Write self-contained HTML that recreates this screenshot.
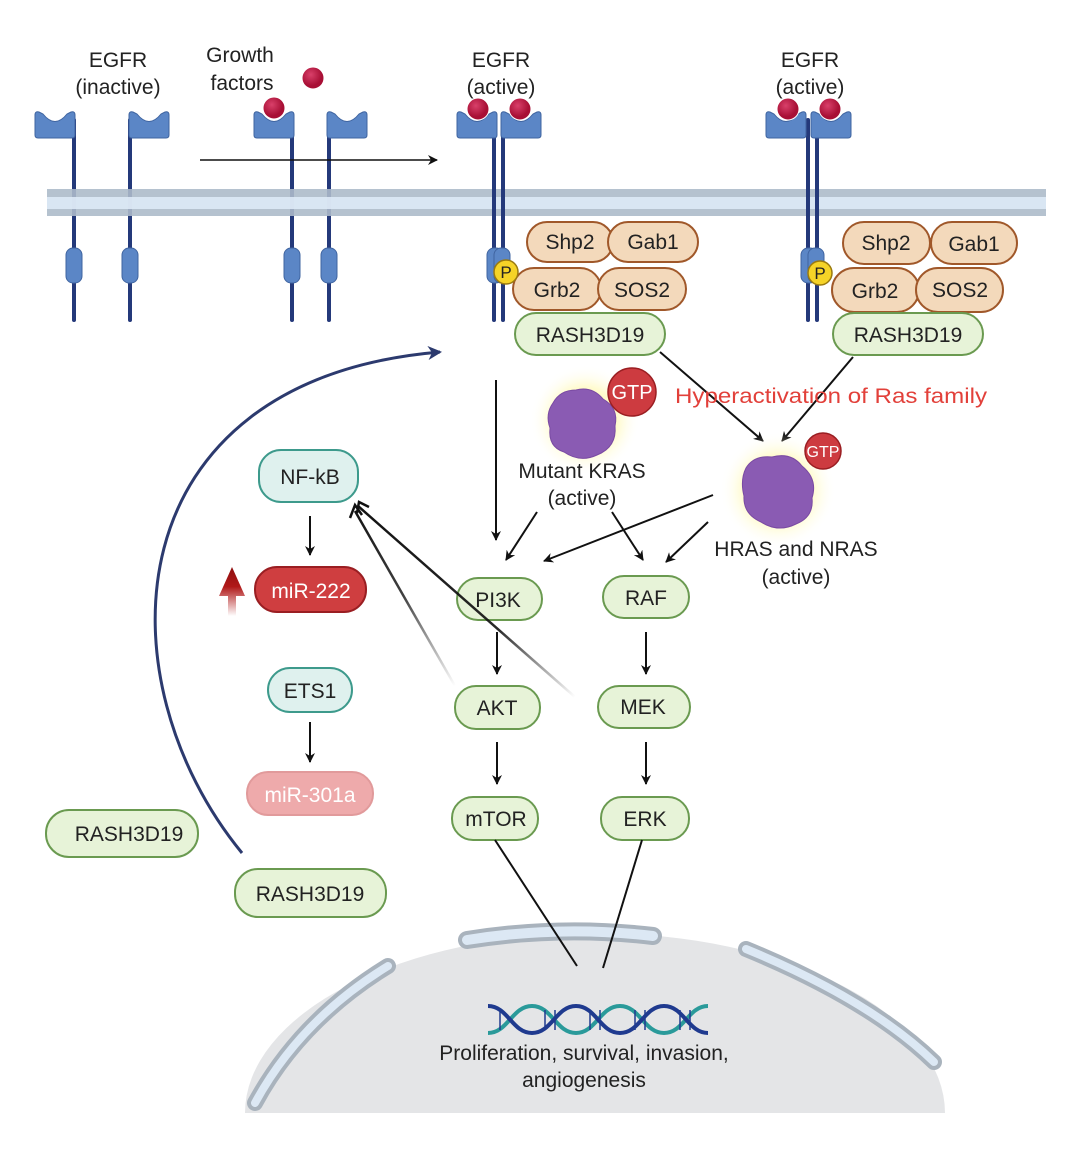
<!DOCTYPE html>
<html><head><meta charset="utf-8"><style>
html,body{margin:0;padding:0;background:#fff}
svg{display:block}
text{font-family:"Liberation Sans",Arial,sans-serif;fill:#222}
</style></head><body>
<svg width="1071" height="1155" viewBox="0 0 1071 1155" xmlns="http://www.w3.org/2000/svg">
<defs>
<marker id="ah" markerWidth="10" markerHeight="10" refX="9" refY="5" orient="auto" markerUnits="userSpaceOnUse"><path d="M0,0 L10,5 L0,10 L3,5 Z" fill="#111"/></marker>
<marker id="ahn" markerWidth="14" markerHeight="14" refX="12" refY="7" orient="auto" markerUnits="userSpaceOnUse"><path d="M0,0 L14,7 L0,14 L4,7 Z" fill="#2c3a6e"/></marker>
<radialGradient id="glow"><stop offset="0" stop-color="#fff36a" stop-opacity="0.9"/><stop offset="0.6" stop-color="#fff7a0" stop-opacity="0.5"/><stop offset="1" stop-color="#fff" stop-opacity="0"/></radialGradient>
<radialGradient id="ball" cx="0.4" cy="0.35"><stop offset="0" stop-color="#d9406a"/><stop offset="1" stop-color="#a80f35"/></radialGradient>
<linearGradient id="fade1" x1="455" y1="686" x2="352" y2="505" gradientUnits="userSpaceOnUse"><stop offset="0" stop-color="#111" stop-opacity="0"/><stop offset="0.5" stop-color="#111" stop-opacity="0.8"/><stop offset="1" stop-color="#111"/></linearGradient>
<linearGradient id="fade2" x1="575" y1="697" x2="355" y2="503" gradientUnits="userSpaceOnUse"><stop offset="0" stop-color="#111" stop-opacity="0"/><stop offset="0.35" stop-color="#111" stop-opacity="0.9"/><stop offset="1" stop-color="#111"/></linearGradient>
<linearGradient id="redup" x1="0" y1="1" x2="0" y2="0"><stop offset="0" stop-color="#b01818" stop-opacity="0"/><stop offset="0.6" stop-color="#b01818"/><stop offset="1" stop-color="#8e0f0f"/></linearGradient>
<g id="cupL"><path d="M0,2 Q0,-2 4,-1 L8,1 Q20,16 32,1 L36,-1 Q40,-2 40,2 L40,22 Q40,25 37,25 L3,25 Q0,25 0,22 Z" fill="#5b86c6" stroke="#3f64a0" stroke-width="1"/></g>
</defs>

<!-- membrane -->
<rect x="47" y="189" width="999" height="27" fill="#b5c2cf"/>
<rect x="47" y="197" width="999" height="12" fill="#dde9f6"/>

<g stroke="#24397a" stroke-width="4" stroke-linecap="round">
<line x1="74" y1="120" x2="74" y2="320"/><line x1="130" y1="120" x2="130" y2="320"/>
<line x1="292" y1="120" x2="292" y2="320"/><line x1="329" y1="120" x2="329" y2="320"/>
<line x1="494" y1="120" x2="494" y2="320"/><line x1="503" y1="120" x2="503" y2="320"/>
<line x1="808" y1="120" x2="808" y2="320"/><line x1="817" y1="120" x2="817" y2="320"/>
</g>
<rect x="47" y="189" width="999" height="27" fill="#b5c2cf" opacity="0.85"/>
<rect x="47" y="197" width="999" height="12" fill="#dde9f6" opacity="0.9"/>
<g stroke="#24397a" stroke-width="4"><line x1="494" y1="189" x2="494" y2="216"/><line x1="503" y1="189" x2="503" y2="216"/><line x1="808" y1="189" x2="808" y2="216"/><line x1="817" y1="189" x2="817" y2="216"/></g>

<use href="#cupL" x="35" y="113"/><use href="#cupL" x="129" y="113"/>
<use href="#cupL" x="254" y="113"/><use href="#cupL" x="327" y="113"/>
<use href="#cupL" x="457" y="113"/><use href="#cupL" x="501" y="113"/>
<use href="#cupL" x="766" y="113"/><use href="#cupL" x="811" y="113"/>
<g fill="#5b86c6" stroke="#3f64a0">
<rect x="66" y="248" width="16" height="35" rx="7"/><rect x="122" y="248" width="16" height="35" rx="7"/>
<rect x="284" y="248" width="16" height="35" rx="7"/><rect x="321" y="248" width="16" height="35" rx="7"/>
<rect x="487" y="248" width="16" height="35" rx="7"/><rect x="494" y="248" width="16" height="35" rx="7"/>
<rect x="801" y="248" width="16" height="35" rx="7"/><rect x="808" y="248" width="16" height="35" rx="7"/>
</g>
<g fill="url(#ball)" stroke="#fff" stroke-width="1"><circle cx="274" cy="108" r="11"/><circle cx="313" cy="78" r="11"/><circle cx="478" cy="109" r="11"/><circle cx="520" cy="109" r="11"/><circle cx="788" cy="109" r="11"/><circle cx="830" cy="109" r="11"/></g>

<g font-size="21" text-anchor="middle">
<text x="118" y="67">EGFR</text><text x="118" y="94">(inactive)</text>
<text x="240" y="62">Growth</text><text x="242" y="90">factors</text>
<text x="501" y="67">EGFR</text><text x="501" y="94">(active)</text>
<text x="810" y="67">EGFR</text><text x="810" y="94">(active)</text>
</g>
<line x1="200" y1="160" x2="437" y2="160" stroke="#111" stroke-width="1.5" marker-end="url(#ah)"/>

<g fill="#f3d9bb" stroke="#a0582a" stroke-width="2">
<rect x="527" y="222" width="86" height="40" rx="20"/><rect x="608" y="222" width="90" height="40" rx="20"/>
<rect x="513" y="268" width="88" height="42" rx="21"/><rect x="598" y="268" width="88" height="42" rx="21"/>
<rect x="843" y="222" width="87" height="42" rx="21"/><rect x="931" y="222" width="86" height="42" rx="21"/>
<rect x="832" y="268" width="87" height="44" rx="22"/><rect x="916" y="268" width="87" height="44" rx="22"/>
</g>
<g font-size="21" text-anchor="middle">
<text x="570" y="249">Shp2</text><text x="653" y="249">Gab1</text>
<text x="557" y="297">Grb2</text><text x="642" y="297">SOS2</text>
<text x="886" y="250">Shp2</text><text x="974" y="251">Gab1</text>
<text x="875" y="298">Grb2</text><text x="960" y="297">SOS2</text>
</g>
<g fill="#f5d327" stroke="#9a7a10" stroke-width="1.5"><circle cx="506" cy="272" r="12"/><circle cx="820" cy="273" r="12"/></g>
<g font-size="17" text-anchor="middle"><text x="506" y="278">P</text><text x="820" y="279">P</text></g>

<g fill="#e7f3d8" stroke="#6a9a50" stroke-width="2">
<rect x="515" y="313" width="150" height="42" rx="21"/><rect x="833" y="313" width="150" height="42" rx="21"/>
<rect x="457" y="578" width="85" height="42" rx="21"/><rect x="603" y="576" width="86" height="42" rx="21"/>
<rect x="455" y="686" width="85" height="43" rx="21"/><rect x="598" y="686" width="92" height="42" rx="21"/>
<rect x="452" y="797" width="86" height="43" rx="21"/><rect x="601" y="797" width="88" height="43" rx="21"/>
<rect x="46" y="810" width="152" height="47" rx="23"/><rect x="235" y="869" width="151" height="48" rx="23"/>
</g>
<g font-size="21" text-anchor="middle">
<text x="590" y="342">RASH3D19</text><text x="908" y="342">RASH3D19</text>
<text x="498" y="607">PI3K</text><text x="646" y="605">RAF</text>
<text x="497" y="715">AKT</text><text x="643" y="714">MEK</text>
<text x="496" y="826">mTOR</text><text x="645" y="826">ERK</text>
<text x="129" y="841">RASH3D19</text><text x="310" y="901">RASH3D19</text>
</g>

<g stroke-width="2">
<rect x="259" y="450" width="99" height="52" rx="22" fill="#dff1ee" stroke="#3d9a8c"/>
<rect x="268" y="668" width="84" height="44" rx="22" fill="#dff1ee" stroke="#3d9a8c"/>
<rect x="255" y="567" width="111" height="45" rx="22" fill="#cf3e40" stroke="#9a1e22"/>
<rect x="247" y="772" width="126" height="43" rx="21" fill="#eeaaab" stroke="#e19a9b"/>
</g>
<g font-size="21" text-anchor="middle">
<text x="310" y="484">NF-kB</text><text x="310" y="698">ETS1</text>
<text x="311" y="598" style="fill:#fff">miR-222</text><text x="310" y="802" style="fill:#fff">miR-301a</text>
</g>
<path d="M228,616 L228,596 L219,596 L232,567 L245,596 L236,596 L236,616 Z" fill="url(#redup)"/>

<g stroke="#111" stroke-width="2" fill="none" marker-end="url(#ah)">
<line x1="660" y1="352" x2="763" y2="441"/>
<line x1="853" y1="357" x2="782" y2="441"/>
<line x1="496" y1="380" x2="496" y2="540"/>
<line x1="537" y1="512" x2="506" y2="560"/>
<line x1="612" y1="512" x2="643" y2="560"/>
<line x1="713" y1="495" x2="544" y2="561"/>
<line x1="708" y1="522" x2="666" y2="562"/>
<line x1="497" y1="632" x2="497" y2="674"/>
<line x1="646" y1="632" x2="646" y2="674"/>
<line x1="497" y1="742" x2="497" y2="784"/>
<line x1="646" y1="742" x2="646" y2="784"/>
<line x1="310" y1="516" x2="310" y2="555"/>
<line x1="310" y1="722" x2="310" y2="762"/>
</g>
<line x1="455" y1="686" x2="355" y2="511" stroke="url(#fade1)" stroke-width="2.5"/>
<line x1="575" y1="697" x2="358" y2="506" stroke="url(#fade2)" stroke-width="2.5"/>
<path d="M350,518 L355,505 L362,515" fill="none" stroke="#111" stroke-width="2.5"/>
<path d="M357,513 L359,502 L369,507" fill="none" stroke="#111" stroke-width="2.5"/>

<path d="M242,853 C100,680 110,380 440,352" fill="none" stroke="#2c3a6e" stroke-width="3" marker-end="url(#ahn)"/>

<circle cx="585" cy="420" r="55" fill="url(#glow)"/>
<circle cx="778" cy="490" r="58" fill="url(#glow)"/>
<g fill="#8a5bb3" stroke="#7a4aa3">
<path d="M553,403 Q560,390 576,390 Q592,386 603,399 Q619,408 615,426 Q617,447 597,455 Q580,463 564,452 Q548,447 550,428 Q545,414 553,403 Z"/>
<path d="M746,468 Q754,455 772,457 Q791,452 802,466 Q818,479 812,498 Q814,517 796,524 Q778,533 761,522 Q743,514 744,496 Q740,480 746,468 Z"/>
</g>
<circle cx="632" cy="392" r="24" fill="#cd3b40" stroke="#9a1e22" stroke-width="1.5"/>
<circle cx="823" cy="451" r="18" fill="#cd3b40" stroke="#9a1e22" stroke-width="1.5"/>
<text x="632" y="399" font-size="20" text-anchor="middle" style="fill:#fff">GTP</text>
<text x="823" y="457" font-size="16" text-anchor="middle" style="fill:#fff">GTP</text>
<text x="675" y="403" font-size="21" textLength="312" lengthAdjust="spacingAndGlyphs" style="fill:#e2403a">Hyperactivation of Ras family</text>
<g font-size="21" text-anchor="middle">
<text x="582" y="478">Mutant KRAS</text><text x="582" y="505">(active)</text>
<text x="796" y="556">HRAS and NRAS</text><text x="796" y="584">(active)</text>
</g>

<path d="M245,1113 A350,180 0 0 1 945,1113 Z" fill="#e4e5e7"/>
<g fill="none" stroke-linecap="round">
<path d="M255,1103 Q300,1020 388,966" stroke="#a9b3bd" stroke-width="16"/>
<path d="M255,1103 Q300,1020 388,966" stroke="#dce8f4" stroke-width="8"/>
<path d="M467,940 Q560,925 653,936" stroke="#a9b3bd" stroke-width="18"/>
<path d="M467,940 Q560,925 653,936" stroke="#dce8f4" stroke-width="10"/>
<path d="M746,949 Q870,1000 934,1062" stroke="#a9b3bd" stroke-width="16"/>
<path d="M746,949 Q870,1000 934,1062" stroke="#dce8f4" stroke-width="8"/>
</g>
<line x1="495" y1="840" x2="577" y2="966" stroke="#111" stroke-width="2"/>
<line x1="642" y1="840" x2="603" y2="968" stroke="#111" stroke-width="2"/>
<g fill="none" stroke-width="4">
<path d="M488,1033 C508,1033 512,1006 532,1006 S556,1033 576,1033 S600,1006 620,1006 S644,1033 664,1033 S688,1006 708,1006" stroke="#2a9a9a"/>
<path d="M488,1006 C508,1006 512,1033 532,1033 S556,1006 576,1006 S600,1033 620,1033 S644,1006 664,1006 S688,1033 708,1033" stroke="#1f3a8f"/>
</g>
<g stroke="#1f3a8f" stroke-width="1.5">
<line x1="500" y1="1010" x2="500" y2="1030"/><line x1="545" y1="1010" x2="545" y2="1030"/><line x1="555" y1="1010" x2="555" y2="1030"/><line x1="590" y1="1010" x2="590" y2="1030"/><line x1="600" y1="1010" x2="600" y2="1030"/><line x1="635" y1="1010" x2="635" y2="1030"/><line x1="645" y1="1010" x2="645" y2="1030"/><line x1="680" y1="1010" x2="680" y2="1030"/><line x1="690" y1="1010" x2="690" y2="1030"/>
</g>
<g font-size="21" text-anchor="middle">
<text x="584" y="1060">Proliferation, survival, invasion,</text>
<text x="584" y="1087">angiogenesis</text>
</g>
</svg>
</body></html>
